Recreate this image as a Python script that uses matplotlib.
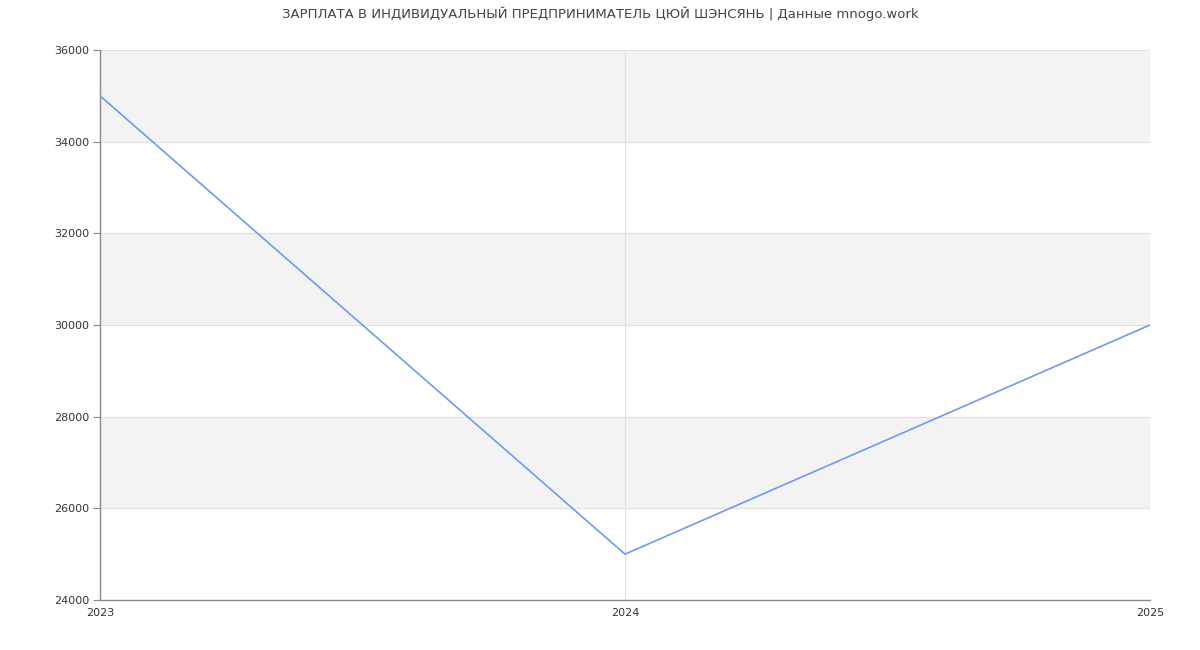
import matplotlib
matplotlib.use("Agg")
import matplotlib.pyplot as plt

years = [2023, 2024, 2025]
salary = [35000, 25000, 30000]
yticks = [24000, 26000, 28000, 30000, 32000, 34000, 36000]

fig = plt.figure(figsize=(12, 6.5), dpi=100)
ax = fig.add_axes([100/1200, 50/650, 1050/1200, 550/650])
ax.set_xlim(2023, 2025)
ax.set_ylim(24000, 36000)

for lo in [26000, 30000, 34000]:
    ax.axhspan(lo, lo + 2000, color="#f3f3f3", zorder=0, lw=0)
for y in yticks[1:]:
    ax.axhline(y, color="#e0e0e0", lw=0.8, zorder=1)
for x in years[1:]:
    ax.axvline(x, color="#e0e0e0", lw=0.8, zorder=1)

ax.plot(years, salary, color="#6d9af0", lw=1.2, zorder=3)

ax.set_yticks(yticks)
ax.set_xticks(years)
ax.set_xticklabels([str(y) for y in years])
ax.tick_params(axis="y", length=5, color="#888888", labelsize=8, labelcolor="#333333", pad=3)
ax.tick_params(axis="x", length=0, labelsize=8, labelcolor="#333333", pad=6)
for s in ["top", "right"]:
    ax.spines[s].set_visible(False)
for s in ["left", "bottom"]:
    ax.spines[s].set_color("#888888")
    ax.spines[s].set_linewidth(1)

fig.text(0.5, 1 - 14/650, "ЗАРПЛАТА В ИНДИВИДУАЛЬНЫЙ ПРЕДПРИНИМАТЕЛЬ ЦЮЙ ШЭНСЯНЬ | Данные mnogo.work",
         ha="center", va="center", fontsize=9.5, color="#444444")

fig.savefig("out.png", dpi=100)
